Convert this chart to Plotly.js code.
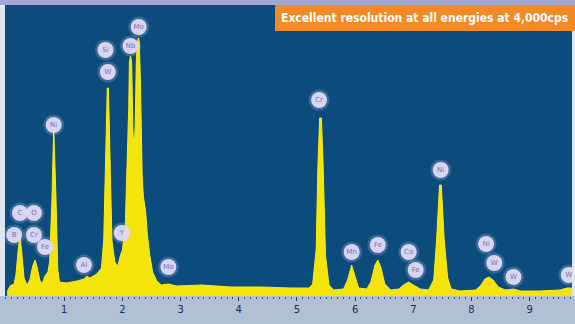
<!DOCTYPE html>
<html>
<head>
<meta charset="utf-8">
<script src="https://cdn.plot.ly/plotly-3.0.1.min.js"></script>
<style>html,body{margin:0;padding:0;background:#fff;}#chart{width:575px;height:324px;}</style>
</head>
<body>
<div id="chart"></div>
<script>
// Spectrum outline: energy (keV) and counts (arbitrary units)
const energy = [0.02,0.07,0.14,0.17,0.21,0.24,0.27,0.31,0.36,0.41,0.46,0.50,0.53,0.58,0.62,0.67,0.72,0.75,0.79,0.82,0.86,0.89,0.92,1.04,1.22,1.34,1.39,1.44,1.56,1.64,1.68,1.71,1.74,1.76,1.78,1.82,1.87,1.92,1.97,2.00,2.05,2.09,2.11,2.12,2.14,2.16,2.18,2.20,2.22,2.24,2.26,2.28,2.29,2.31,2.34,2.36,2.40,2.43,2.47,2.52,2.59,2.67,2.79,2.93,3.36,3.87,4.38,4.90,5.21,5.27,5.33,5.36,5.39,5.42,5.45,5.49,5.55,5.63,5.80,5.87,5.94,5.99,6.06,6.20,6.27,6.34,6.39,6.44,6.51,6.61,6.75,6.83,6.92,7.00,7.12,7.26,7.35,7.40,7.45,7.48,7.53,7.59,7.65,7.81,8.07,8.15,8.23,8.30,8.37,8.46,8.58,8.72,8.84,9.18,9.52,9.64,9.73];
const counts = [4,10,12,21,46,60,44,18,11,16,30,36,30,16,12,20,24,34,96,170,96,26,14,13,15,17,20,18,22,28,56,150,208,208,146,56,34,30,41,46,71,146,190,234,240,234,166,146,170,236,254,258,254,216,120,100,84,61,41,24,15,11,12,10,11,9,9,8,8,12,46,130,178,178,130,41,11,6,7,16,31,21,8,7,14,31,36,29,12,6,7,11,14,11,7,6,16,56,111,111,56,18,7,5,6,10,17,19,16,9,6,7,5,5,6,8,8];

// Element labels
const labelText = ["B","C","O","Cr","Fe","Ni","Al","Si","W","Y","Nb","Mo","Mo","Cr","Mn","Fe","Co","Fe","Ni","Ni","W","W","W"];
const labelE    = [0.14,0.24,0.48,0.48,0.67,0.82,1.34,1.71,1.75,1.99,2.14,2.28,2.79,5.38,5.94,6.39,6.92,7.04,7.47,8.25,8.39,8.72,9.67];
const labelY    = [61,83,83,61,49,171,31,246,224,63,250,269,29,196,44,51,44,26,126,52,33,19,21];

const tickValues = [1,2,3,4,5,6,7,8,9];
const tickLabels = ["1","2","3","4","5","6","7","8","9"];
const titleText = "Excellent resolution at all energies at 4,000cps";

const traces = [
  {x: energy, y: counts, type: 'scatter', mode: 'lines', fill: 'tozeroy',
   fillcolor: '#f4e40a', line: {color: '#f8ec1a', width: 1}, hoverinfo: 'skip'},
  {x: labelE, y: labelY, type: 'scatter', mode: 'markers',
   marker: {size: 21, color: 'rgba(215,205,240,0.22)', line: {width: 0}}, hoverinfo: 'skip'},
  {x: labelE, y: labelY, type: 'scatter', mode: 'markers+text', text: labelText,
   textposition: 'middle center', textfont: {size: 7, color: '#6a78b0', family: 'DejaVu Sans'},
   marker: {size: 16, color: 'rgba(226,218,245,0.95)', line: {width: 0}}, hoverinfo: 'skip'}
];

const layout = {
  width: 575, height: 324,
  margin: {l: 5, r: 3, t: 5, b: 28},
  paper_bgcolor: '#dfe6f0',
  plot_bgcolor: '#0c4c7d',
  showlegend: false,
  xaxis: {range: [-0.017, 9.726], showgrid: false, zeroline: false, showline: false,
          tickvals: tickValues, ticktext: tickLabels, ticks: 'outside', ticklen: 4,
          tickcolor: '#2a3a60', tickwidth: 1,
          tickfont: {size: 10, color: '#1c2b52', family: 'DejaVu Sans'},
          minor: {dtick: 0.1, ticks: 'outside', ticklen: 2, tickcolor: '#3a4a70', tickwidth: 1},
          fixedrange: true},
  yaxis: {range: [0, 291], showgrid: false, zeroline: false, showline: false,
          showticklabels: false, ticks: '', fixedrange: true},
  shapes: [
    {type: 'rect', xref: 'paper', yref: 'paper', x0: -5/567, x1: 1 + 3/567, y0: -28/291, y1: 0,
     fillcolor: '#b2c0d5', line: {width: 0}, layer: 'below'},
    {type: 'rect', xref: 'paper', yref: 'paper', x0: -5/567, x1: 1 + 3/567, y0: 1, y1: 1 + 5/291,
     fillcolor: '#a3a9d2', line: {width: 0}},
    {type: 'rect', xref: 'paper', yref: 'paper', x0: 270/567, x1: 1 + 3/567, y0: 1 - 26/291, y1: 1,
     fillcolor: '#f28a26', line: {width: 0}}
  ],
  annotations: [
    {text: '<b>' + titleText + '</b>', xref: 'paper', yref: 'paper', x: 274/567, y: 1 - 13/291,
     xanchor: 'left', yanchor: 'middle', showarrow: false,
     font: {size: 12, color: '#ffffff', family: "'Liberation Sans Narrow', 'DejaVu Sans Condensed', sans-serif"}}
  ]
};

Plotly.newPlot('chart', traces, layout, {displayModeBar: false, staticPlot: true});
</script>
</body>
</html>
